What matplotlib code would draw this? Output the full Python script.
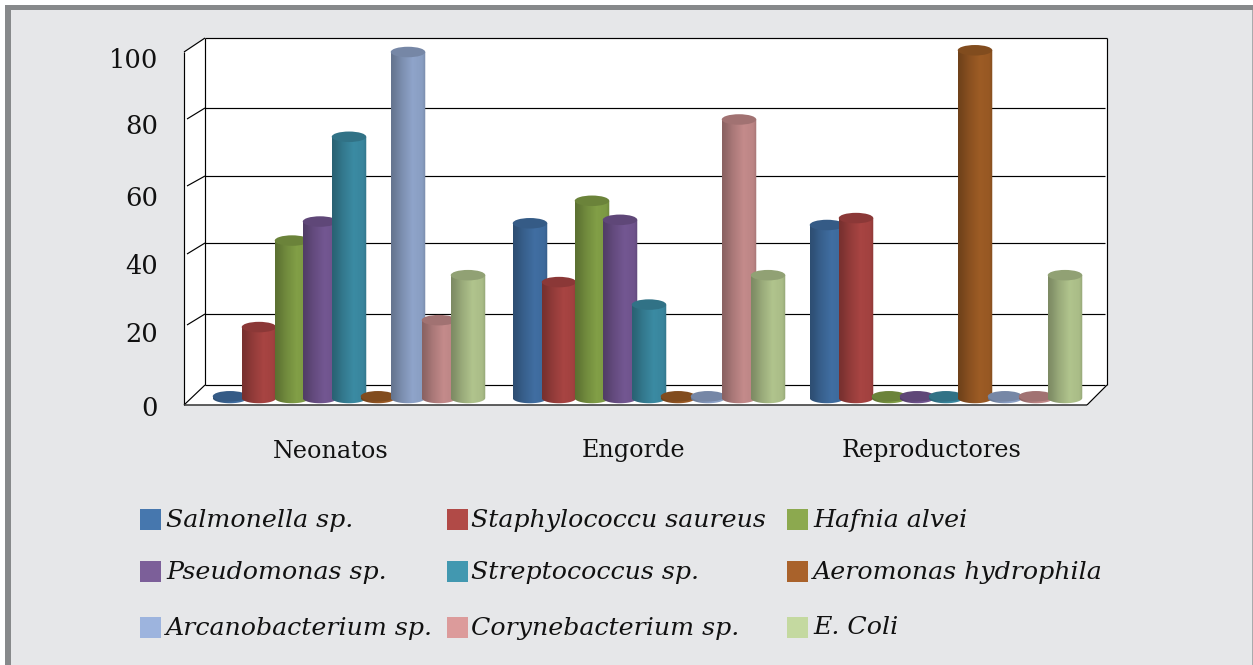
import matplotlib
matplotlib.use("Agg")
import matplotlib.pyplot as plt
from matplotlib.patches import Ellipse, PathPatch, Polygon, Rectangle
from matplotlib.path import Path
import numpy as np

W, H = 1253, 665

#Data
groups = ["Neonatos", "Engorde", "Reproductores"]
species = ["Salmonella sp.", "Staphylococcu saureus", "Hafnia alvei",
           "Pseudomonas sp.", "Streptococcus sp.", "Aeromonas hydrophila",
           "Arcanobacterium sp.", "Corynebacterium sp.", "E. Coli"]
salmonella = [0.5, 50.5, 50]
staphylococcus = [20.5, 33.5, 52]
hafnia = [45.5, 57, 0.5]
pseudomonas = [51, 51.5, 0.5]
streptococcus = [75.5, 27, 0.5]
aeromonas = [0.5, 0.5, 100.5]
arcanobacterium = [100, 0.5, 0.5]
corynebacterium = [22.5, 80.5, 0.5]
e_coli = [35.5, 35.5, 35.5]
series = [salmonella, staphylococcus, hafnia, pseudomonas, streptococcus,
          aeromonas, arcanobacterium, corynebacterium, e_coli]
y_ticks = [0, 20, 40, 60, 80, 100]

#Colors
legend_colors = ["#4677AE", "#B14A47", "#8CA94F", "#7C5F99", "#4298B0",
                 "#A9622B", "#9DB4DE", "#DC9B9B", "#C4D9A0"]
bar_colors = ["#3F6C9F", "#A54341", "#7F9C45", "#71558F", "#3A88A0",
              "#9A5A24", "#8CA1C6", "#C08888", "#ADC08A"]
bg = "#E6E7E9"
frame = "#87898B"

#Layout in pixels
back_y = [385, 314, 243, 176, 108, 38]
front_y = [405, 325, 254, 186, 119, 52]
front_x = [184, 187, 187, 187, 187, 184]
label_y = [408, 335, 266, 198, 126, 60]
group_px = [349, 649, 946]
series_px = [-119, -90, -57, -29, 0, 29, 59, 90, 119]
group_label_px = [330.5, 633.5, 931.5]
legend_x = [140, 447, 787]
legend_y = [520, 572, 628]
legend_text_x = [166, 471, 813]
serif = "DejaVu Serif"


def rgb(color):
    return np.array(matplotlib.colors.to_rgb(color))


#Cylinder body: gradient image clipped to the bar rectangle plus a rounded base
def draw_cylinder(ax, rect, color, cap_h):
    x0, w, v = rect.get_x(), rect.get_width(), rect.get_height()
    x1 = x0 + w
    t = np.linspace(0, 1, 60)
    shade = np.interp(t, [0, 0.1, 0.3, 0.62, 0.9, 1], [0.72, 0.76, 0.88, 1.02, 0.98, 0.86])
    img = np.clip(rgb(color)[None, None, :] * shade[None, :, None], 0, 1)
    verts = [(x0, v), (x1, v), (x1, 0)]
    theta = np.linspace(0, np.pi, 30)
    verts += [(x0 + w / 2 + w / 2 * np.cos(a), -cap_h / 2 * np.sin(a)) for a in theta]
    verts.append((x0, v))
    patch = PathPatch(Path(verts), transform=ax.transData, fc="none", ec="none")
    ax.add_patch(patch)
    im = ax.imshow(img, extent=(x0, x1, -cap_h, v), aspect="auto",
                   interpolation="bilinear", zorder=rect.get_zorder())
    im.set_clip_path(patch)
    ax.add_patch(Ellipse((x0 + w / 2, v), w, cap_h, fc=rgb(color) * 0.84, ec="none",
                         zorder=rect.get_zorder() + 0.1))


if __name__ == "__main__":
    fig = plt.figure(figsize=(W / 100, H / 100), dpi=100, facecolor="white")

    #Pixel axes for the frame, the walls and the text
    px = fig.add_axes([0, 0, 1, 1])
    px.set_xlim(0, W)
    px.set_ylim(H, 0)
    px.axis("off")
    px.add_patch(Rectangle((5, 5), W, H, fc=bg, ec="none"))
    px.add_patch(Rectangle((5, 5), 5.5, H, fc=frame, ec="none"))
    px.add_patch(Rectangle((5, 5), W, 5, fc=frame, ec="none"))
    px.add_patch(Rectangle((W - 1, 10), 1, H, fc="#A9ABAD", ec="none"))
    px.add_patch(Polygon([(184, 52), (205, 38), (1107, 38), (1107, 385), (1087, 405), (184, 405)],
                         fc="white", ec="none"))
    line = dict(color="black", lw=0.85, solid_capstyle="butt")
    for by, fy, fx in zip(back_y, front_y, front_x):
        px.plot([fx, 205], [fy, by], **line)
        px.plot([205, 1105 if by != 38 else 1107], [by, by], **line)
    px.plot([205, 205], [38, 385], **line)
    px.plot([184, 184], [52, 405], **line)
    px.plot([1107, 1107], [38, 385], **line)
    px.plot([184, 1087], [405, 405], color="#333333", lw=1.1, solid_capstyle="butt")
    px.plot([1107, 1087], [385, 405], **line)
    for tick, y in zip(y_ticks, label_y):
        px.text(158, y, str(tick), ha="right", va="center", family=serif, fontsize=18.5, color="#111111")
    for name, x in zip(groups, group_label_px):
        px.text(x, 451, name, ha="center", va="center", family=serif, fontsize=17.2, color="#111111")
    for i, name in enumerate(species):
        col, row = i % 3, i // 3
        px.add_patch(Rectangle((legend_x[col], legend_y[row] - 11), 21, 21, fc=legend_colors[i], ec="none"))
        px.text(legend_text_x[col], legend_y[row], name, ha="left", va="center", family=serif,
                style="italic", fontsize=18.2, color="#111111")

    #Data axes: x in group units, y in percent
    ax = fig.add_axes([0, 0, 1, 1], facecolor="none")
    px_per_group = 298.5
    px_per_unit = 3.46
    xlim = ((0 - group_px[0]) / px_per_group, (W - group_px[0]) / px_per_group)
    ylim = ((398 - H) / px_per_unit, 398 / px_per_unit)
    ax.axis("off")
    bar_w = 34.5 / px_per_group
    cap_h = 10.5 / px_per_unit
    x = (np.array(group_px) - group_px[0]) / px_per_group
    for i, values in enumerate(series):
        bars = ax.bar(x + series_px[i] / px_per_group, values, bar_w, color="none", zorder=3 + i * 0.2)
        for rect in bars:
            draw_cylinder(ax, rect, bar_colors[i], cap_h)
    ax.set_xlim(xlim)
    ax.set_ylim(ylim)

    plt.savefig("out.png", dpi=100)
